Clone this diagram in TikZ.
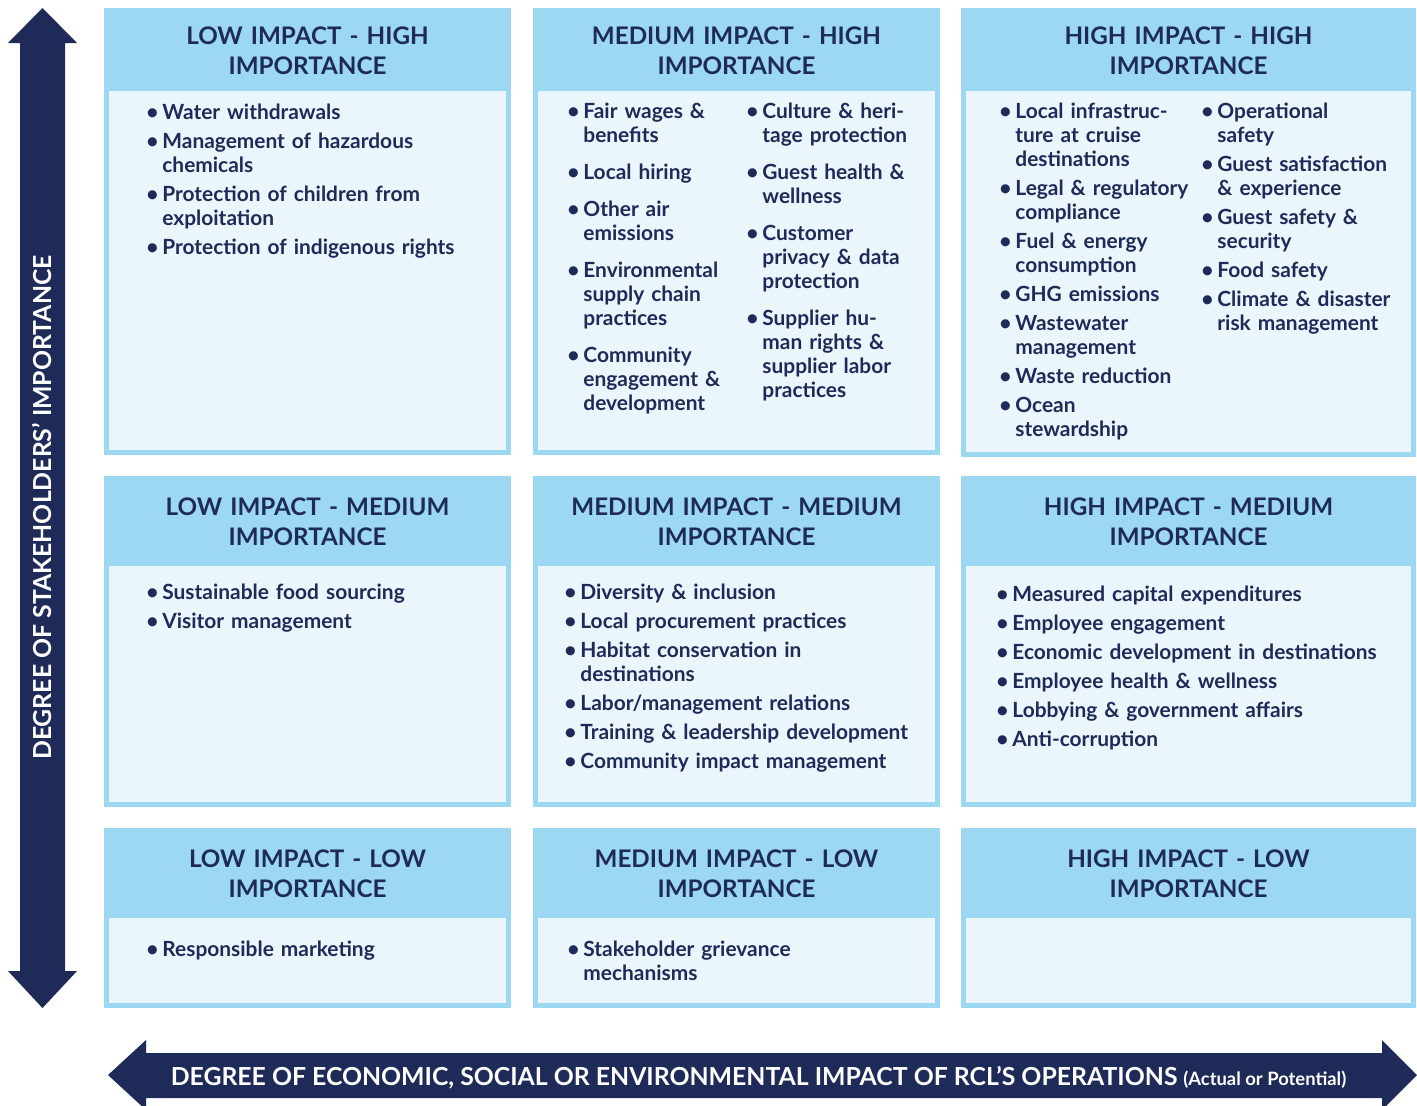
\documentclass[tikz,border=0pt]{standalone}
\usepackage{fontspec}
\setmainfont{Lato}
\definecolor{navy}{HTML}{1E2B58}
\definecolor{skyhead}{HTML}{9DD8F3}
\definecolor{paleblue}{HTML}{EAF5FC}
\newcommand{\bul}{\makebox[8pt][l]{\textbullet}}
\newcommand{\ind}{\hspace*{8pt}}
\newcommand{\cellbox}[5]{%
  \fill[skyhead] (#1,#2) rectangle (#3,#4);
  \fill[paleblue] (#1+5,#5) rectangle (#3-5,#4-5);}

\begin{document}
\begin{tikzpicture}[x=0.5pt,y=-0.5pt,
  title/.style={text=navy,font=\bfseries\fontsize{12.1}{15}\selectfont,align=center,text width=195pt,inner sep=0pt,anchor=base},
  items/.style={text=navy,font=\bfseries\fontsize{10.45}{12}\selectfont,align=left,inner sep=0pt,anchor=base west},
  axis/.style={text=white,font=\bfseries\fontsize{12.4}{14}\selectfont,inner sep=0pt,anchor=base}]
\useasboundingbox (0,0) rectangle (1417,1105);
\fill[white] (0,0) rectangle (1417,1105);

% the nine boxes
\cellbox{104}{8}{511}{455}{91}
\cellbox{533}{8}{940}{455}{91}
\cellbox{961}{8}{1416}{457}{91}
\cellbox{104}{476}{511}{807}{566}
\cellbox{533}{476}{940}{807}{566}
\cellbox{961}{476}{1416}{807}{566}
\cellbox{104}{828}{511}{1008}{918}
\cellbox{533}{828}{940}{1008}{918}
\cellbox{961}{828}{1416}{1008}{918}

% titles
\node[title] (t11) at (307.5,44.5) {LOW IMPACT - HIGH\\IMPORTANCE};
\node[title] (t21) at (736.5,44.5) {MEDIUM IMPACT - HIGH\\IMPORTANCE};
\node[title] (t31) at (1188.5,44.5) {HIGH IMPACT - HIGH\\IMPORTANCE};
\node[title] (t12) at (307.5,515.5) {LOW IMPACT - MEDIUM\\IMPORTANCE};
\node[title] (t22) at (736.5,515.5) {MEDIUM IMPACT - MEDIUM\\IMPORTANCE};
\node[title] (t32) at (1188.5,515.5) {HIGH IMPACT - MEDIUM\\IMPORTANCE};
\node[title] (t13) at (307.5,867.5) {LOW IMPACT - LOW\\IMPORTANCE};
\node[title] (t23) at (736.5,867.5) {MEDIUM IMPACT - LOW\\IMPORTANCE};
\node[title] (t33) at (1188.5,867.5) {HIGH IMPACT - LOW\\IMPORTANCE};

% items, high importance
\node[items,text width=174pt] (i11) at (146,119) {\bul Water withdrawals\\[2.5pt]
  \bul Management of hazardous\\\ind chemicals\\[2.5pt]
  \bul Protection of children from\\\ind exploitation\\[2.5pt]
  \bul Protection of indigenous rights};
\node[items,text width=88pt] (i21a) at (567,118) {\bul Fair wages \&\\\ind benefits\\[6.5pt]
  \bul Local hiring\\[6.5pt]
  \bul Other air\\\ind emissions\\[6.5pt]
  \bul Environmental\\\ind supply chain\\\ind practices\\[6.5pt]
  \bul Community\\\ind engagement \&\\\ind development};
\node[items,text width=90pt] (i21b) at (746,118) {\bul Culture \& heri-\\\ind tage protection\\[6.5pt]
  \bul Guest health \&\\\ind wellness\\[6.5pt]
  \bul Customer\\\ind privacy \& data\\\ind protection\\[6.5pt]
  \bul Supplier hu-\\\ind man rights \&\\\ind supplier labor\\\ind practices};
\node[items,text width=100pt] (i31a) at (999,118) {\bul Local infrastruc-\\\ind ture at cruise\\\ind destinations\\[2.5pt]
  \bul Legal \& regulatory\\\ind compliance\\[2.5pt]
  \bul Fuel \& energy\\\ind consumption\\[2.5pt]
  \bul GHG emissions\\[2.5pt]
  \bul Wastewater\\\ind management\\[2.5pt]
  \bul Waste reduction\\[2.5pt]
  \bul Ocean\\\ind stewardship};
\node[items,text width=102pt] (i31b) at (1201,118) {\bul Operational\\\ind safety\\[2.5pt]
  \bul Guest satisfaction\\\ind \& experience\\[2.5pt]
  \bul Guest safety \&\\\ind security\\[2.5pt]
  \bul Food safety\\[2.5pt]
  \bul Climate \& disaster\\\ind risk management};

% items, medium importance
\node[items,text width=174pt] (i12) at (146,599) {\bul Sustainable food sourcing\\[2.5pt]
  \bul Visitor management};
\node[items,text width=184pt] (i22) at (564,599) {\bul Diversity \& inclusion\\[2.5pt]
  \bul Local procurement practices\\[2.5pt]
  \bul Habitat conservation in\\\ind destinations\\[2.5pt]
  \bul Labor/management relations\\[2.5pt]
  \bul Training \& leadership development\\[2.5pt]
  \bul Community impact management};
\node[items,text width=206pt] (i32) at (996,601) {\bul Measured capital expenditures\\[2.5pt]
  \bul Employee engagement\\[2.5pt]
  \bul Economic development in destinations\\[2.5pt]
  \bul Employee health \& wellness\\[2.5pt]
  \bul Lobbying \& government affairs\\[2.5pt]
  \bul Anti-corruption};

% items, low importance
\node[items,text width=174pt] (i13) at (146,956) {\bul Responsible marketing};
\node[items,text width=174pt] (i23) at (567,956) {\bul Stakeholder grievance\\\ind mechanisms};

% axis arrows
\fill[navy] (20,43) -- (8,43) -- (42.5,8) -- (77,43) -- (65,43) -- (65,971)
  -- (77,971) -- (42.5,1008) -- (8,971) -- (20,971) -- cycle;
\fill[navy] (146,1053) -- (146,1040) -- (108,1075) -- (146,1110) -- (146,1098)
  -- (1382,1098) -- (1382,1110) -- (1417,1075) -- (1382,1040) -- (1382,1053) -- cycle;
\node[axis,rotate=90] (yaxis) at (51,507.5) {DEGREE OF STAKEHOLDERS’ IMPORTANCE};
\node[axis] (xaxis) at (758.5,1085) {DEGREE OF ECONOMIC, SOCIAL OR ENVIRONMENTAL IMPACT OF RCL’S OPERATIONS {\fontsize{9.2}{11}\selectfont(Actual or Potential)}};
\end{tikzpicture}
\end{document}
